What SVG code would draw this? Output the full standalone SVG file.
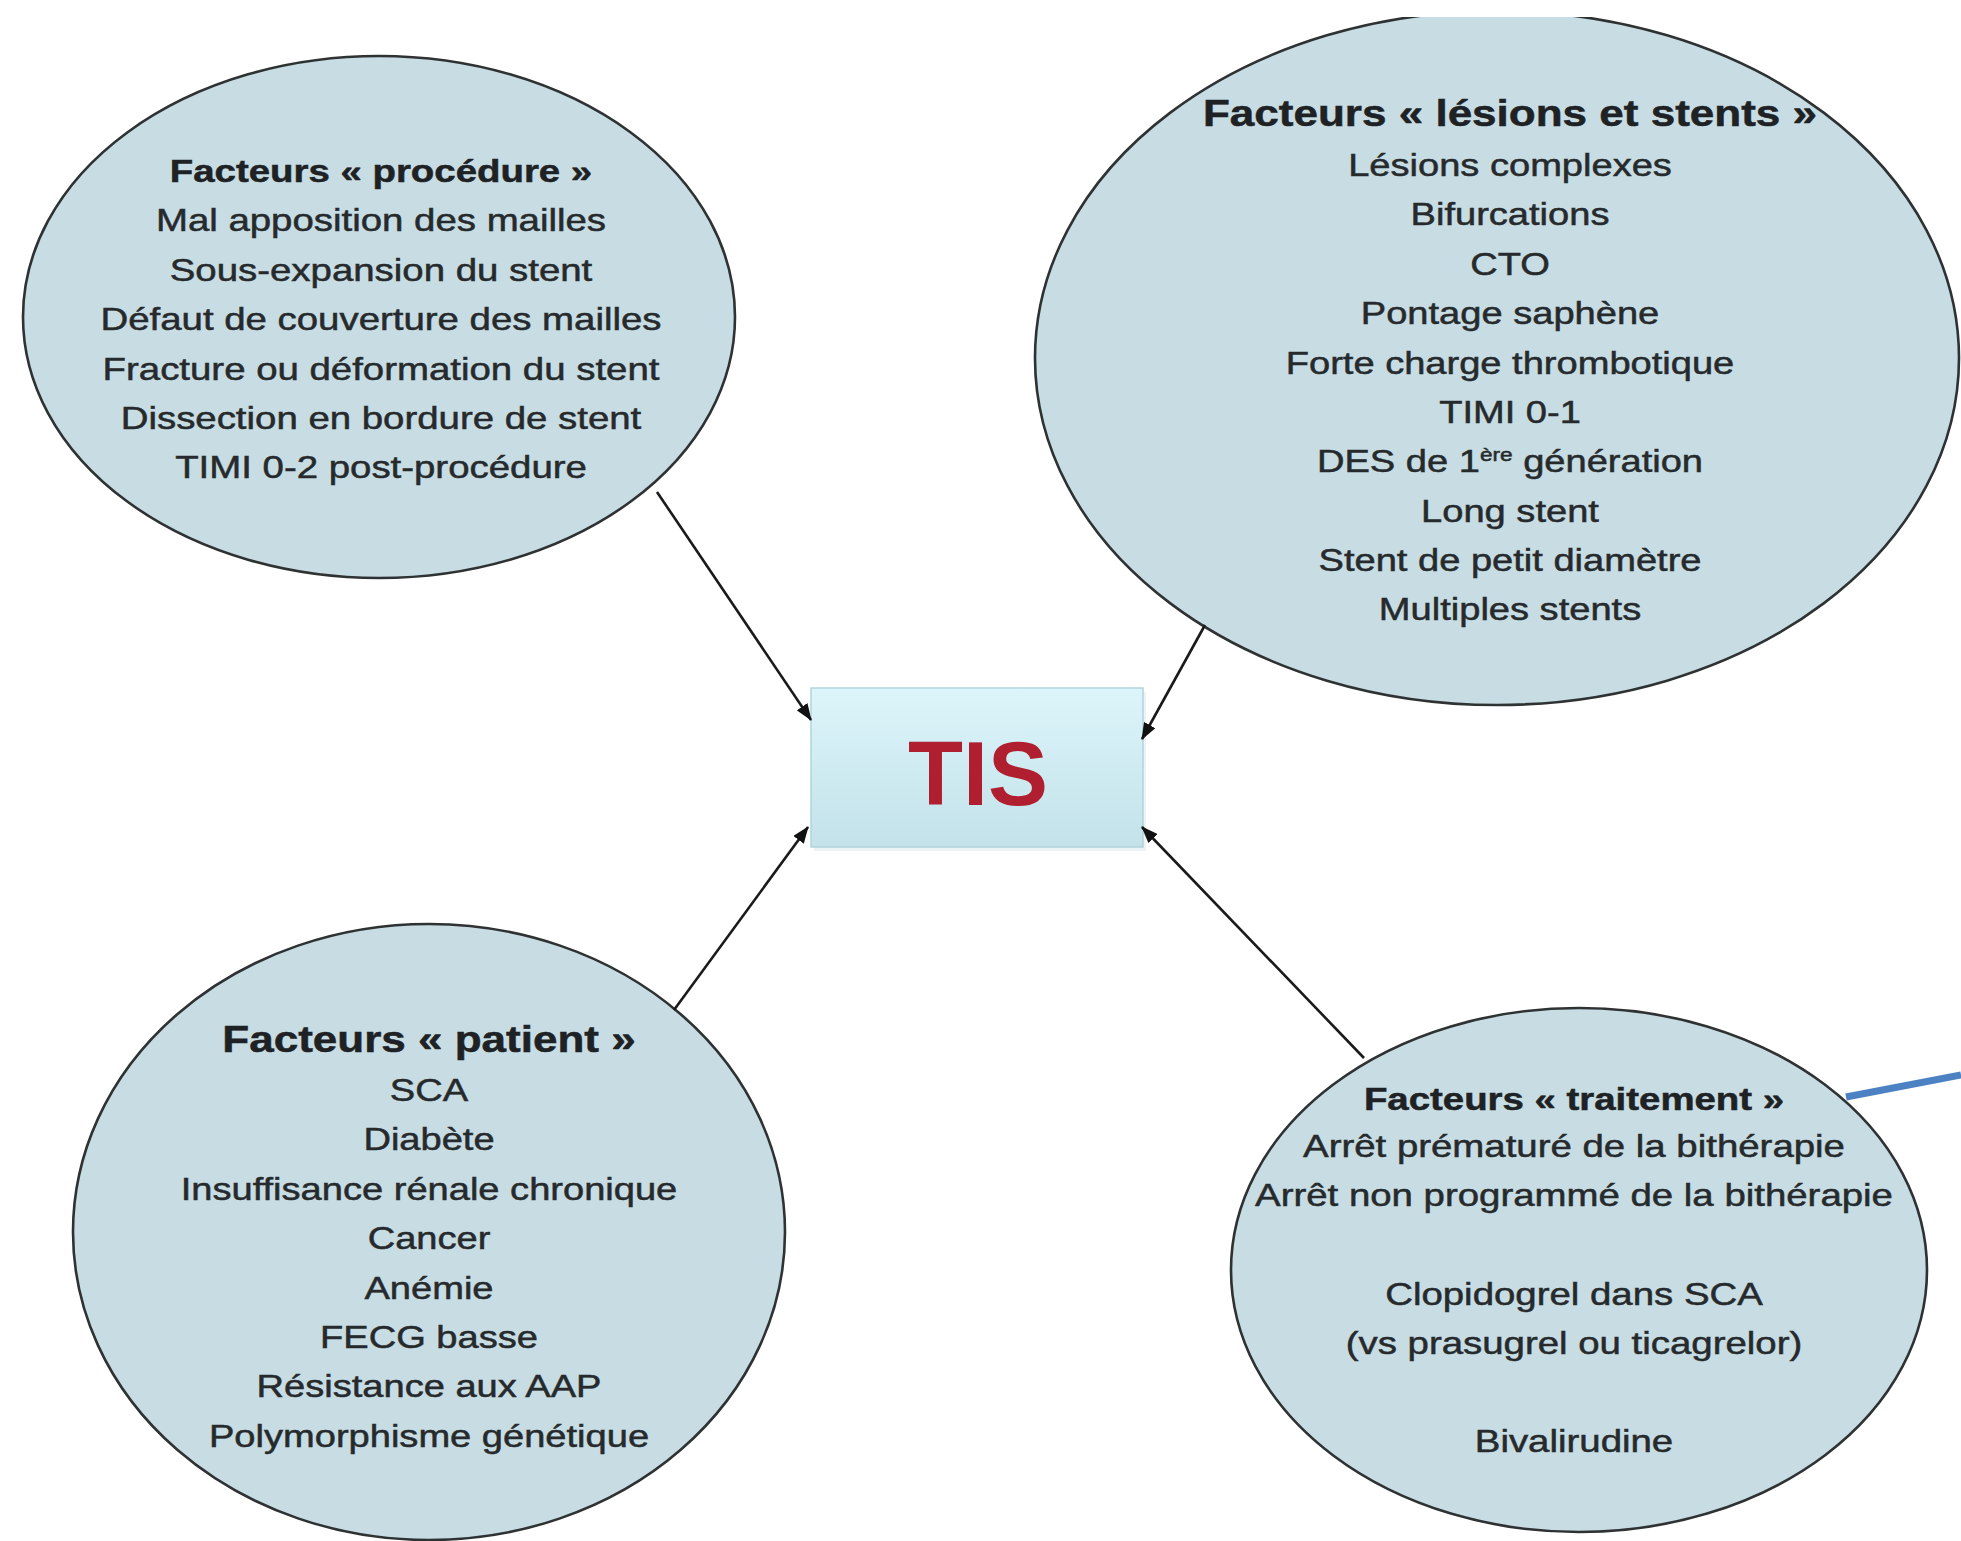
<svg xmlns="http://www.w3.org/2000/svg" width="1961" height="1541" viewBox="0 0 1961 1541">
<style>
.ell{fill:#c7dce3;stroke:#2f3233;stroke-width:2.6}
.t{font-family:"Liberation Sans",Arial,sans-serif;font-size:32px;fill:#262a2c;stroke:#262a2c;stroke-width:0.5;text-anchor:middle}
.b{font-weight:bold;fill:#1e2224;stroke:#1e2224}
.big{font-size:37px}
.conn{stroke:#1a1a1a;stroke-width:2.6;fill:none;marker-end:url(#ah)}
</style>
<defs>
<marker id="ah" markerUnits="userSpaceOnUse" markerWidth="17" markerHeight="13" viewBox="0 0 17 13" refX="16" refY="6.5" orient="auto">
<path d="M0,0 L17,6.5 L0,13 z" fill="#111"/>
</marker>
<linearGradient id="boxg" x1="0" y1="0" x2="0" y2="1">
<stop offset="0" stop-color="#dcf5fa"/>
<stop offset="1" stop-color="#c3e2ea"/>
</linearGradient>
<clipPath id="topclip"><rect x="0" y="17" width="1961" height="1524"/></clipPath>
</defs>
<rect width="1961" height="1541" fill="#ffffff"/>

<g id="node-procedure">
<ellipse class="ell" cx="379" cy="317" rx="356" ry="261"/>
<g transform="translate(381 0) scale(1.2 1)">
<text class="t b" x="0" y="182">Facteurs « procédure »</text>
<text class="t" x="0" y="231">Mal apposition des mailles</text>
<text class="t" x="0" y="281">Sous-expansion du stent</text>
<text class="t" x="0" y="330">Défaut de couverture des mailles</text>
<text class="t" x="0" y="380">Fracture ou déformation du stent</text>
<text class="t" x="0" y="429">Dissection en bordure de stent</text>
<text class="t" x="0" y="478">TIMI 0-2 post-procédure</text>
</g>
</g>

<g id="node-lesions">
<ellipse class="ell" cx="1497" cy="358" rx="462" ry="347" clip-path="url(#topclip)"/>
<g transform="translate(1510 0) scale(1.19 1)">
<text class="t b big" x="0" y="126">Facteurs « lésions et stents »</text>
<text class="t" x="0" y="176">Lésions complexes</text>
<text class="t" x="0" y="225">Bifurcations</text>
<text class="t" x="0" y="275">CTO</text>
<text class="t" x="0" y="324">Pontage saphène</text>
<text class="t" x="0" y="374">Forte charge thrombotique</text>
<text class="t" x="0" y="423">TIMI 0-1</text>
<text class="t" x="0" y="472">DES de 1<tspan font-size="19" baseline-shift="11">ère</tspan> génération</text>
<text class="t" x="0" y="522">Long stent</text>
<text class="t" x="0" y="571">Stent de petit diamètre</text>
<text class="t" x="0" y="620">Multiples stents</text>
</g>
</g>

<g id="node-patient">
<ellipse class="ell" cx="429" cy="1232" rx="356" ry="308"/>
<g transform="translate(429 0) scale(1.19 1)">
<text class="t b big" x="0" y="1052">Facteurs « patient »</text>
<text class="t" x="0" y="1101">SCA</text>
<text class="t" x="0" y="1150">Diabète</text>
<text class="t" x="0" y="1200">Insuffisance rénale chronique</text>
<text class="t" x="0" y="1249">Cancer</text>
<text class="t" x="0" y="1299">Anémie</text>
<text class="t" x="0" y="1348">FECG basse</text>
<text class="t" x="0" y="1397">Résistance aux AAP</text>
<text class="t" x="0" y="1447">Polymorphisme génétique</text>
</g>
</g>

<g id="node-traitement">
<ellipse class="ell" cx="1579" cy="1270" rx="348" ry="262"/>
<g transform="translate(1574 0) scale(1.2 1)">
<text class="t b" x="0" y="1110">Facteurs « traitement »</text>
<text class="t" x="0" y="1157">Arrêt prématuré de la bithérapie</text>
<text class="t" x="0" y="1206">Arrêt non programmé de la bithérapie</text>
<text class="t" x="0" y="1305">Clopidogrel dans SCA</text>
<text class="t" x="0" y="1354">(vs prasugrel ou ticagrelor)</text>
<text class="t" x="0" y="1452">Bivalirudine</text>
</g>
</g>

<g id="node-tis">
<rect x="814" y="692" width="332" height="159" fill="#e6eef0" opacity="0.7"/>
<rect x="811" y="688" width="332" height="159" fill="url(#boxg)" stroke="#b3d3db" stroke-width="1.5"/>
<text x="978" y="805" font-family="'Liberation Sans',Arial,sans-serif" font-weight="bold" font-size="90" fill="#b01f30" text-anchor="middle">TIS</text>
</g>

<g id="connectors">
<line class="conn" x1="657" y1="492" x2="811" y2="720"/>
<line class="conn" x1="1205" y1="625" x2="1142" y2="739"/>
<line class="conn" x1="674" y1="1010" x2="808" y2="827"/>
<line class="conn" x1="1364" y1="1058" x2="1142" y2="827"/>
<line x1="1846" y1="1097" x2="1961" y2="1075" stroke="#4c82c3" stroke-width="7"/>
</g>
</svg>
